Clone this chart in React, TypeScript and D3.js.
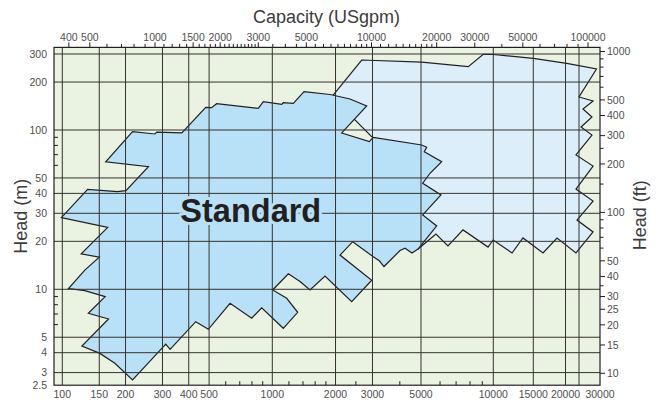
import React, { useEffect, useRef } from 'react';
import * as d3 from 'd3';

const W = 662;
const H = 406;

// bottom axis: capacity (m3/h)
const capLabels = [100, 150, 200, 300, 400, 500, 1000, 2000, 3000, 5000, 10000, 15000, 20000, 30000];
const capGrid = [100, 150, 200, 300, 400, 500, 1000, 2000, 3000, 5000, 10000, 15000, 20000, 25000];
const capMinor = [600, 700, 800, 900, 1200, 1400, 1600, 1800, 2500, 4000, 6000, 7000, 8000, 9000];
const capMin = 91.3;
const capMax = 30000;

// top axis: capacity (USgpm)
const gpmLabels = [400, 500, 1000, 1500, 2000, 3000, 5000, 10000, 20000, 30000, 50000, 100000];

// left axis: head (m)
const headLabels = [2.5, 3, 4, 5, 10, 20, 30, 40, 50, 100, 200, 300];
const headGrid = [3, 4, 5, 10, 20, 30, 40, 50, 100, 200, 300];
const headMinor = [6, 7, 8, 9, 60, 70, 80, 90];
const headMin = 2.5;
const headMax = 330;

// right axis: head (ft)
const ftLabels = [10, 15, 20, 25, 30, 40, 50, 100, 200, 300, 400, 500, 1000];
const ftMinor = [35, 60, 70, 80, 90, 150, 250, 600, 700, 800, 900];

// [capacity m3/h, head m]
const standardRange: [number, number][] = [
  [99, 28.2], [132, 42.4], [183, 41.0], [201, 41.6], [257, 58.8], [161, 63.2],
  [216, 97.6], [276, 94.4], [282, 97.1], [371, 95.8], [482, 138.8], [514, 138],
  [543, 146.3], [858, 136.8], [906, 150.6], [1109, 145], [1128, 148.4], [1259, 147.1],
  [1416, 174], [1883, 167], [2344, 156.5], [2815, 141.5], [2141, 95.8], [2897, 84.5],
  [3025, 90.0], [5034, 80.5], [5280, 77.9], [5160, 73.1], [6098, 63.2], [5452, 53.5],
  [5082, 46.3], [6056, 39.1], [5082, 29.3], [5812, 25.0], [4845, 17.9], [4547, 16.9],
  [4225, 18.1], [4008, 17.5], [3386, 13.9], [3223, 15.1], [3025, 16.0], [2415, 19.9],
  [2101, 16.4], [2974, 11.4], [2388, 8.36], [1782, 12.1], [1512, 9.9], [1355, 11.2],
  [1192, 12.5], [1004, 9.9], [1171, 8.78], [1321, 7.17], [1128, 5.69], [890, 7.66],
  [798, 6.58], [629, 8.17], [496, 5.61], [432, 6.26], [326, 4.20], [311, 4.53],
  [216, 2.70], [178, 3.43], [151, 3.96], [124, 4.40], [166, 6.51], [133, 7.07],
  [160, 8.99], [128, 9.8], [107, 10.1], [128, 13.2], [150, 15.9], [123, 16.7],
  [164.5, 24.5],
];

const extendedRange: [number, number][] = [
  [1945, 164.7], [2666, 275], [5034, 267], [7867, 250], [9083, 298.7], [10000, 297.8],
  [15000, 281.8], [20400, 262.2], [29100, 241.5], [25000, 161.1], [28250, 152.1],
  [25880, 135.5], [27980, 120.6], [25440, 104.4], [27980, 93.0], [23790, 69.7],
  [28250, 59.4], [23790, 42.6], [28250, 35.8], [24180, 27.2], [28250, 22.9],
  [23790, 16.9], [18540, 21.0], [16360, 16.9], [13510, 21.0], [12090, 16.9],
  [9983, 20.4], [9506, 18.4], [7480, 23.6], [6475, 18.7], [5770, 22.2], [4845, 17.9],
  [4225, 22.9], [3800, 64.8], [2344, 124.3],
];

const standardLabel = { text: 'Standard', at: [790, 26.6] as [number, number] };

const INK = '#231f20';
const GRID = '#35322e';
const LABEL = '#4f4f4f';
const FONT = '"Liberation Sans", Arial, sans-serif';

export default function App() {
  const ref = useRef<SVGSVGElement>(null);

  useEffect(() => {
    const svg = d3.select(ref.current);
    svg.selectAll('*').remove();

    const x = d3.scaleLog()
      .domain([100, 3000, 5000, 10000, 15000, 20000, 25000, 30000])
      .range([62.3, 372.5, 421, 493.3, 533.3, 565.5, 579, 600]);
    const y = d3.scaleLog().domain([2.5, 330]).range([385.2, 47.4]);
    const xTop = d3.scaleLog().domain([1000, 100000]).range([155, 588]);
    const yFt = d3.scaleLog().domain([10, 1000]).range([373.3, 51.5]);

    const left = x(capMin);
    const right = x(capMax);
    const top = y(headMax);
    const bottom = y(headMin);

    svg.append('rect')
      .attr('x', left).attr('y', top)
      .attr('width', right - left).attr('height', bottom - top)
      .attr('fill', '#eaf2e1');

    const shape = d3.line<[number, number]>()
      .x(d => x(d[0]))
      .y(d => y(d[1]))
      .curve(d3.curveLinearClosed);

    svg.append('path')
      .attr('d', shape(extendedRange))
      .attr('fill', '#dceef9')
      .attr('stroke', INK)
      .attr('stroke-width', 1.2)
      .attr('stroke-linejoin', 'miter');

    svg.append('path')
      .attr('d', shape(standardRange))
      .attr('fill', '#b8e0f6')
      .attr('stroke', INK)
      .attr('stroke-width', 1.2)
      .attr('stroke-linejoin', 'miter');

    // grid
    const grid = svg.append('g').attr('stroke', GRID).attr('stroke-width', 1);
    grid.selectAll('line.v')
      .data(capGrid)
      .join('line')
      .attr('class', 'v')
      .attr('x1', d => x(d)).attr('x2', d => x(d))
      .attr('y1', top).attr('y2', bottom);
    grid.selectAll('line.h')
      .data(headGrid)
      .join('line')
      .attr('class', 'h')
      .attr('x1', left).attr('x2', right)
      .attr('y1', d => y(d)).attr('y2', d => y(d));

    svg.append('rect')
      .attr('x', left).attr('y', top)
      .attr('width', right - left).attr('height', bottom - top)
      .attr('fill', 'none')
      .attr('stroke', INK)
      .attr('stroke-width', 1.2);

    const ticks = svg.append('g').attr('stroke', INK).attr('stroke-width', 1);

    // bottom minor ticks (inside)
    ticks.selectAll('line.b')
      .data(capMinor)
      .join('line')
      .attr('class', 'b')
      .attr('x1', d => x(d)).attr('x2', d => x(d))
      .attr('y1', bottom).attr('y2', bottom - 4);

    // left minor ticks (inside)
    ticks.selectAll('line.l')
      .data(headMinor)
      .join('line')
      .attr('class', 'l')
      .attr('x1', left).attr('x2', left + 4)
      .attr('y1', d => y(d)).attr('y2', d => y(d));

    // top ticks (outside)
    const gpmTicks = [
      ...d3.range(400, 3000, 100),
      ...d3.range(3000, 10000, 500),
      ...d3.range(10000, 20000, 1000),
      ...d3.range(20000, 110000, 10000),
    ];
    ticks.selectAll('line.t')
      .data(gpmTicks.filter(d => xTop(d) > left + 1 && xTop(d) < right - 1))
      .join('line')
      .attr('class', 't')
      .attr('x1', d => xTop(d)).attr('x2', d => xTop(d))
      .attr('y1', top).attr('y2', d => (gpmLabels.includes(d) ? top - 5 : top - 3.5));

    // right ticks (outside)
    ticks.selectAll('line.r')
      .data([...ftLabels, ...ftMinor])
      .join('line')
      .attr('class', 'r')
      .attr('x1', right).attr('x2', d => (ftLabels.includes(d) ? right + 5 : right + 3.5))
      .attr('y1', d => yFt(d)).attr('y2', d => yFt(d));

    const text = svg.append('g')
      .attr('font-family', FONT)
      .attr('font-size', 10.5)
      .attr('fill', LABEL);

    text.selectAll('text.b')
      .data(capLabels)
      .join('text')
      .attr('class', 'b')
      .attr('x', d => x(d))
      .attr('y', bottom + 13)
      .attr('text-anchor', 'middle')
      .text(d => String(d));

    text.selectAll('text.t')
      .data(gpmLabels)
      .join('text')
      .attr('class', 't')
      .attr('x', d => xTop(d))
      .attr('y', top - 6)
      .attr('text-anchor', 'middle')
      .text(d => String(d));

    text.selectAll('text.l')
      .data(headLabels)
      .join('text')
      .attr('class', 'l')
      .attr('x', left - 7)
      .attr('y', d => y(d))
      .attr('dy', '0.35em')
      .attr('text-anchor', 'end')
      .text(d => String(d));

    text.selectAll('text.r')
      .data(ftLabels)
      .join('text')
      .attr('class', 'r')
      .attr('x', right + 7)
      .attr('y', d => yFt(d))
      .attr('dy', '0.35em')
      .attr('text-anchor', 'start')
      .text(d => String(d));

    // titles
    const titles = svg.append('g')
      .attr('font-family', FONT)
      .attr('font-size', 18)
      .attr('fill', '#3c3c3c');

    titles.append('text')
      .attr('x', (xTop(1000) + xTop(100000)) / 2 - 45)
      .attr('y', 22.7)
      .attr('text-anchor', 'middle')
      .text('Capacity (USgpm)');

    titles.append('text')
      .attr('transform', `translate(26.7,${(top + bottom) / 2}) rotate(-90)`)
      .attr('text-anchor', 'middle')
      .text('Head (m)');

    titles.append('text')
      .attr('transform', `translate(645.5,${(top + bottom) / 2 - 1}) rotate(-90)`)
      .attr('text-anchor', 'middle')
      .text('Head (ft)');

    svg.append('text')
      .attr('x', x(standardLabel.at[0]))
      .attr('y', y(standardLabel.at[1]))
      .attr('text-anchor', 'middle')
      .attr('font-family', FONT)
      .attr('font-weight', 'bold')
      .attr('font-size', 32.5)
      .attr('fill', INK)
      .attr('stroke', '#b8e0f6')
      .attr('stroke-width', 6)
      .attr('paint-order', 'stroke')
      .attr('stroke-linejoin', 'round')
      .text(standardLabel.text);
  }, []);

  return (
    <svg
      ref={ref}
      width={W}
      height={H}
      style={{ position: 'absolute', left: 0, top: 0, background: '#fff' }}
    />
  );
}
